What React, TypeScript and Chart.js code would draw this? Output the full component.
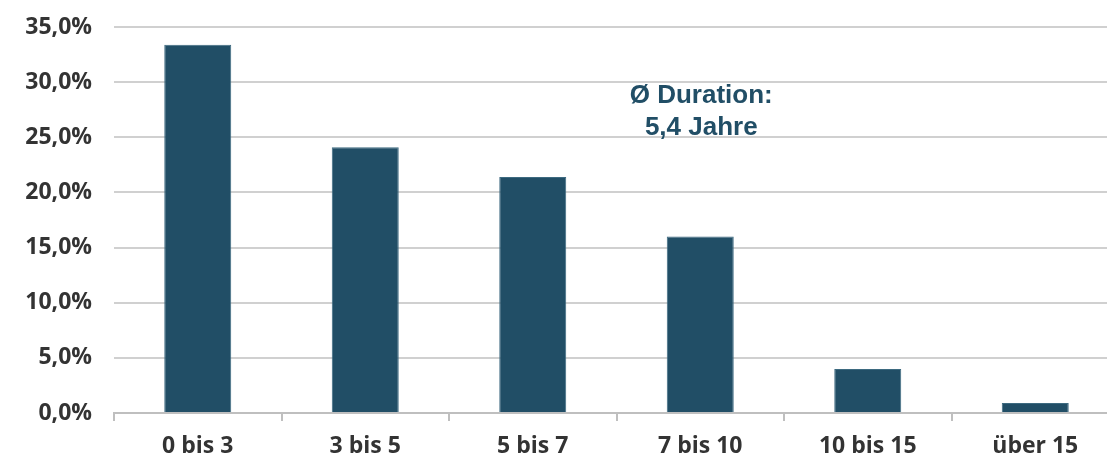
import React, { useEffect, useRef } from "react";
import { Chart, registerables } from "chart.js";

Chart.register(...registerables);

const categories = ["0 bis 3", "3 bis 5", "5 bis 7", "7 bis 10", "10 bis 15", "über 15"];
const shares = [33.4, 24.1, 21.4, 16.0, 4.0, 0.9];
const yTicks = [0, 5, 10, 15, 20, 25, 30, 35];
const annotationLines = ["Ø Duration:", "5,4 Jahre"];

const BAR = "#214e66";

const annotationPlugin = {
  id: "durationNote",
  afterDatasetsDraw(chart: any) {
    const { ctx, scales } = chart;
    const x = scales.x.getPixelForValue(3) + 1;
    const y1 = scales.y.getPixelForValue(28.8);
    const y2 = scales.y.getPixelForValue(25.9);
    ctx.save();
    ctx.fillStyle = BAR;
    ctx.font = "bold 26px 'Liberation Sans', Arial, sans-serif";
    ctx.textAlign = "center";
    ctx.textBaseline = "middle";
    ctx.fillText(annotationLines[0], x, y1);
    ctx.fillText(annotationLines[1], x, y2);
    ctx.restore();
  },
};

// The original plot area runs slightly past the right edge of the picture.
const extendPlugin = {
  id: "extendRight",
  afterLayout(chart: any) {
    const r = chart.width + 12;
    const x = chart.scales.x;
    x.right = r;
    x.width = r - x.left;
    x.configure();
    chart.chartArea.right = r;
    chart.chartArea.width = r - chart.chartArea.left;
  },
};

export default function App() {
  const ref = useRef<HTMLCanvasElement>(null);
  useEffect(() => {
    document.body.style.margin = "0";
    const chart = new Chart(ref.current!, {
      type: "bar",
      data: {
        labels: categories,
        datasets: [
          {
            data: shares,
            backgroundColor: BAR,
            borderColor: "#3d6a80",
            borderWidth: 1,
            categoryPercentage: 0.8,
            barPercentage: 0.5,
          },
        ],
      },
      options: {
        animation: false,
        responsive: false,
        layout: { padding: { top: 27, right: 0, left: 0, bottom: 0 } },
        plugins: { legend: { display: false }, tooltip: { enabled: false } },
        scales: {
          x: {
            afterFit(axis: any) {
              axis.height = 44;
              axis.paddingLeft = 0;
              axis.paddingRight = 0;
            },
            grid: {
              offset: true,
              drawOnChartArea: false,
              drawTicks: true,
              tickLength: 8,
              color: "#bfbfbf",
              lineWidth: 2,
            },
            border: { display: true, color: "#bfbfbf", width: 2 },
            ticks: {
              color: "#333333",
              font: { family: "'Open Sans'", size: 23, weight: "bold" },
              padding: 12,
            },
          },
          y: {
            min: 0,
            max: 35,
            afterBuildTicks(axis: any) {
              axis.ticks = yTicks.map((v) => ({ value: v }));
            },
            afterFit(axis: any) {
              axis.width = 114;
              axis.paddingTop = 0;
              axis.paddingBottom = 0;
            },
            grid: { color: "#d0d0d0", lineWidth: 2, drawTicks: false },
            border: { display: false },
            ticks: {
              color: "#333333",
              font: { family: "'Open Sans'", size: 23, weight: "bold" },
              padding: 22,
              callback: (v: any) => Number(v).toFixed(1).replace(".", ",") + "%",
            },
          },
        },
      },
      plugins: [extendPlugin, annotationPlugin],
    });
    return () => chart.destroy();
  }, []);
  return <canvas ref={ref} width={1107} height={457} style={{ display: "block" }} />;
}
